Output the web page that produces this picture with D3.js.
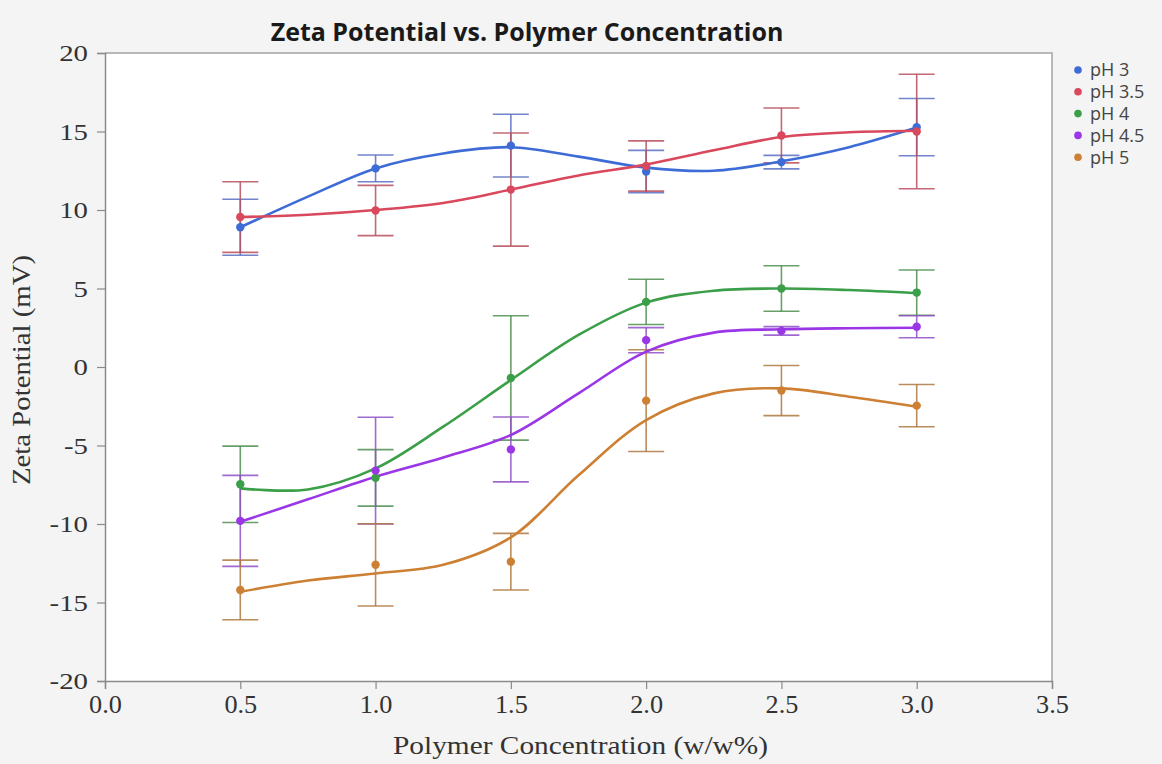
<!DOCTYPE html>
<html>
<head>
<meta charset="utf-8">
<script src="https://cdn.jsdelivr.net/npm/d3@7"></script>
<style>
  html, body { margin: 0; padding: 0; background: #f4f4f4; }
  svg { display: block; }
</style>
</head>
<body>
<svg id="chart" width="1162" height="764"></svg>
<script>
// Polymer concentration levels (w/w%)
const concentrations = [0.5, 1.0, 1.5, 2.0, 2.5, 3.0];

// Series names
const seriesNames = ["pH 3", "pH 3.5", "pH 4", "pH 4.5", "pH 5"];

// Mean zeta potential (mV) per series
const meanPH3  = [8.9, 12.65, 14.1, 12.45, 13.05, 15.28];
const meanPH35 = [9.55, 9.97, 11.3, 12.8, 14.75, 15.0];
const meanPH4  = [-7.47, -7.06, -0.7, 4.15, 5.0, 4.74];
const meanPH45 = [-9.8, -6.6, -5.25, 1.71, 2.3, 2.56];
const meanPH5  = [-14.2, -12.6, -12.4, -2.14, -1.5, -2.46];

// Error bar half-widths (mV) per series
const errPH3  = [1.78, 0.85, 2.0, 1.35, 0.43, 1.82];
const errPH35 = [2.25, 1.6, 3.6, 1.6, 1.75, 3.65];
const errPH4  = [2.43, 1.8, 3.96, 1.44, 1.45, 1.44];
const errPH45 = [2.9, 3.4, 2.07, 0.8, 0.27, 0.7];
const errPH5  = [1.9, 2.62, 1.8, 3.24, 1.6, 1.35];

// Smoothing-spline fit evaluated at these concentrations
const fitX = [0.5, 0.75, 1.0, 1.25, 1.5, 1.75, 2.0, 2.25, 2.5, 2.75, 3.0];
const fitPH3  = [8.9, 10.85, 12.65, 13.6, 14.0, 13.4, 12.7, 12.5, 13.1, 14.0, 15.25];
const fitPH35 = [9.55, 9.7, 10.0, 10.45, 11.3, 12.2, 12.9, 13.8, 14.65, 14.95, 15.05];
const fitPH4  = [-7.73, -7.8, -6.46, -3.8, -0.83, 2.04, 4.1, 4.86, 5.0, 4.9, 4.7];
const fitPH45 = [-9.86, -8.43, -6.99, -5.76, -4.33, -1.68, 0.98, 2.19, 2.4, 2.47, 2.5];
const fitPH5  = [-14.32, -13.6, -13.15, -12.6, -10.85, -6.9, -3.38, -1.68, -1.36, -1.89, -2.53];

// Axis ticks
const xTicks = [0.0, 0.5, 1.0, 1.5, 2.0, 2.5, 3.0, 3.5];
const yTicks = [-20, -15, -10, -5, 0, 5, 10, 15, 20];

const colors    = ["#3e6cd6", "#d9485c", "#3a9f48", "#9a36e6", "#cd8033"];
const barColors = ["#5a6fc2", "#b8505e", "#4f9050", "#9050c8", "#b07840"];

const series = seriesNames.map((name, i) => ({
  name,
  color: colors[i],
  barColor: barColors[i],
  mean: [meanPH3, meanPH35, meanPH4, meanPH45, meanPH5][i],
  err: [errPH3, errPH35, errPH4, errPH45, errPH5][i],
  fit: [fitPH3, fitPH35, fitPH4, fitPH45, fitPH5][i]
}));

const svg = d3.select("#chart");
const W = 1162, H = 764;
const plot = { left: 105, right: 1052, top: 53, bottom: 681 };
const serif = "'Liberation Serif', 'Times New Roman', serif";
const sans = "'Open Sans', 'Noto Sans', sans-serif";

// widen serif glyphs horizontally by a factor
function stretch(sel, k) {
  sel.each(function () {
    const w = this.getComputedTextLength();
    d3.select(this).attr("textLength", w * k).attr("lengthAdjust", "spacingAndGlyphs");
  });
}

svg.append("rect").attr("width", W).attr("height", H).attr("fill", "#f4f4f4");

const x = d3.scaleLinear().domain([0, 3.5]).range([plot.left, plot.right]);
const y = d3.scaleLinear().domain([-20, 20]).range([plot.bottom, plot.top]);

// Plot frame
svg.append("rect")
  .attr("x", plot.left).attr("y", plot.top)
  .attr("width", plot.right - plot.left).attr("height", plot.bottom - plot.top)
  .attr("fill", "#ffffff");
svg.append("path")
  .attr("d", `M${plot.left},${plot.top}H${plot.right}V${plot.bottom}`)
  .attr("fill", "none").attr("stroke", "#b8b8b8").attr("stroke-width", 2);

// Title
svg.append("text")
  .attr("x", 527).attr("y", 41)
  .attr("text-anchor", "middle")
  .attr("font-family", sans)
  .attr("font-weight", "bold")
  .attr("font-size", 25)
  .attr("fill", "#1a1a1a")
  .text("Zeta Potential vs. Polymer Concentration");

// Axes
const xAxis = d3.axisBottom(x).tickValues(xTicks).tickFormat(d3.format(".1f")).tickSizeOuter(0).tickSize(8);
const yAxis = d3.axisLeft(y).tickValues(yTicks).tickFormat(d => String(d)).tickSizeOuter(0).tickSize(8);

const gx = svg.append("g").attr("transform", `translate(0,${plot.bottom})`).call(xAxis);
const gy = svg.append("g").attr("transform", `translate(${plot.left},0)`).call(yAxis);

[gx, gy].forEach(g => {
  g.select(".domain").attr("stroke", "#8a8a8a").attr("stroke-width", 1.5);
  g.selectAll(".tick line").attr("stroke", "#8a8a8a").attr("stroke-width", 1.2);
  g.selectAll(".tick text")
    .attr("font-family", serif)
    .attr("font-size", 25)
    .attr("fill", "#333");
});
gx.selectAll(".tick text").attr("y", 12).attr("dy", "0.8em");
gy.selectAll(".tick text").attr("x", -17).attr("font-size", 24);
stretch(gx.selectAll(".tick text"), 1.05);
stretch(gy.selectAll(".tick text"), 1.2);

// Axis titles
svg.append("text")
  .attr("x", (plot.left + plot.right) / 2 + 2).attr("y", 754)
  .attr("text-anchor", "middle")
  .attr("font-family", serif)
  .attr("font-size", 26)
  .attr("fill", "#333")
  .attr("textLength", 375).attr("lengthAdjust", "spacingAndGlyphs")
  .text("Polymer Concentration (w/w%)");

svg.append("text")
  .attr("transform", `translate(30,${(plot.top + plot.bottom) / 2 + 3}) rotate(-90)`)
  .attr("text-anchor", "middle")
  .attr("font-family", serif)
  .attr("font-size", 26)
  .attr("fill", "#333")
  .attr("textLength", 230).attr("lengthAdjust", "spacingAndGlyphs")
  .text("Zeta Potential (mV)");

// Data layers
const layer = svg.append("g");
const line = d3.line().x(d => x(d[0])).y(d => y(d[1])).curve(d3.curveCatmullRom.alpha(0.5));
const capHalf = 18;

series.forEach(s => {
  const g = layer.append("g");
  // error bars
  concentrations.forEach((c, i) => {
    const hi = s.mean[i] + s.err[i], lo = s.mean[i] - s.err[i];
    g.append("line")
      .attr("x1", x(c)).attr("x2", x(c)).attr("y1", y(hi)).attr("y2", y(lo))
      .attr("stroke", s.barColor).attr("stroke-width", 1.6).attr("opacity", 0.85);
    [hi, lo].forEach(v => {
      g.append("line")
        .attr("x1", x(c) - capHalf).attr("x2", x(c) + capHalf)
        .attr("y1", y(v)).attr("y2", y(v))
        .attr("stroke", s.barColor).attr("stroke-width", 1.6).attr("opacity", 0.85);
    });
  });
});

series.forEach(s => {
  layer.append("path")
    .datum(fitX.map((c, i) => [c, s.fit[i]]))
    .attr("d", line)
    .attr("fill", "none")
    .attr("stroke", s.color)
    .attr("stroke-width", 2.6);
});

series.forEach(s => {
  layer.append("g").selectAll("circle")
    .data(concentrations.map((c, i) => [c, s.mean[i]]))
    .join("circle")
    .attr("cx", d => x(d[0])).attr("cy", d => y(d[1]))
    .attr("r", 4.2)
    .attr("fill", s.color);
});

// Legend
const legend = svg.append("g").attr("transform", "translate(1078,70)");
series.forEach((s, i) => {
  const row = legend.append("g").attr("transform", `translate(0,${i * 21.8})`);
  row.append("circle").attr("r", 3.8).attr("fill", s.color);
  row.append("text")
    .attr("x", 12).attr("dy", "0.36em")
    .attr("font-family", sans)
    .attr("font-size", 18)
    .attr("fill", "#444")
    .text(s.name);
});
</script>
</body>
</html>
